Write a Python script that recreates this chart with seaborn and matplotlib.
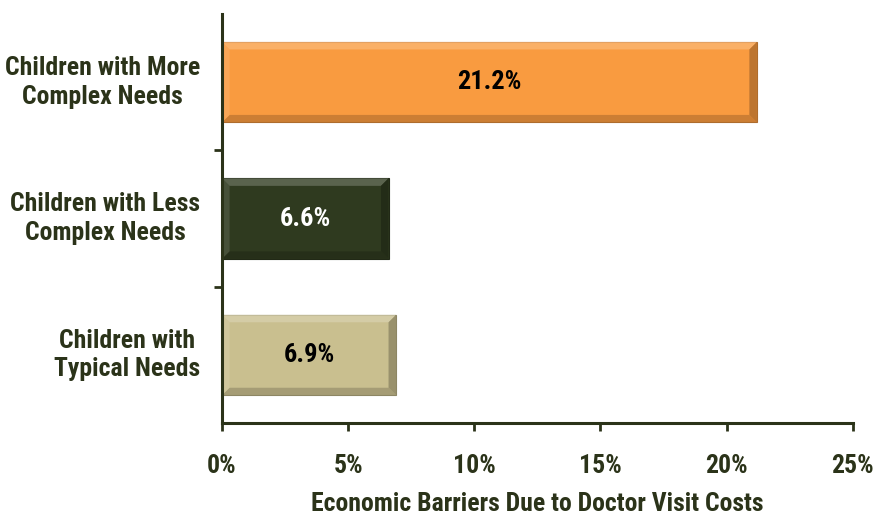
import pandas as pd
import matplotlib.pyplot as plt
import matplotlib.colors as mcolors
from matplotlib.patches import Polygon
import seaborn as sns

# Data
categories = ["Children with More\nComplex Needs",
              "Children with Less\nComplex Needs",
              "Children with\nTypical Needs"]
values = [21.2, 6.6, 6.9]
bar_colors = ["#F99B40", "#2F3A1F", "#C9BF8F"]
label_colors = ["black", "white", "black"]
x_ticks = [0, 5, 10, 15, 20, 25]

df = pd.DataFrame({"group": categories, "pct": values})

sns.set_style("white")
plt.rcParams['font.family'] = ['Roboto Condensed', 'PT Sans Narrow', 'DejaVu Sans']
plt.rcParams['font.weight'] = 'bold'
ink = "#2B3319"

fig = plt.figure(figsize=(8.81, 5.18), dpi=100)
ax = fig.add_axes([0.252, 0.183, 0.716, 0.79])

sns.barplot(data=df, y="group", x="pct", hue="group", palette=bar_colors,
            width=0.59, orient="h", legend=False, ax=ax, saturation=1)

ax.set_xlim(0, 25)
ax.set_ylim(2.5, -0.5)

# bevel edges on each bar
bx = 0.30
by = 0.055
for patch, col in zip(ax.patches, bar_colors):
    x0, y0 = patch.get_x(), patch.get_y()
    w, h = patch.get_width(), patch.get_height()
    x1, y1 = x0 + w, y0 + h
    base = mcolors.to_rgb(col)
    light = tuple(min(1, c + (1 - c) * 0.3) for c in base)
    dark = tuple(c * 0.7 for c in base)
    patch.set_edgecolor(dark)
    patch.set_linewidth(0.8)
    ax.add_patch(Polygon([(x0, y0), (x1, y0), (x1 - bx, y0 + by), (x0 + bx, y0 + by)],
                         closed=True, facecolor=light, edgecolor="none", alpha=0.7))
    ax.add_patch(Polygon([(x0, y1), (x1, y1), (x1 - bx, y1 - by), (x0 + bx, y1 - by)],
                         closed=True, facecolor=dark, edgecolor="none", alpha=0.6))
    ax.add_patch(Polygon([(x0, y0), (x0 + bx, y0 + by), (x0 + bx, y1 - by), (x0, y1)],
                         closed=True, facecolor=light, edgecolor="none", alpha=0.4))
    ax.add_patch(Polygon([(x1, y0), (x1 - bx, y0 + by), (x1 - bx, y1 - by), (x1, y1)],
                         closed=True, facecolor=dark, edgecolor="none", alpha=0.8))

# value labels
for i, (v, tc) in enumerate(zip(values, label_colors)):
    ax.text(v / 2, i, f"{v}%", ha="center", va="center", fontsize=19,
            fontweight="bold", color=tc)

# axes styling
for s in ["top", "right"]:
    ax.spines[s].set_visible(False)
for s in ["left", "bottom"]:
    ax.spines[s].set_color(ink)
    ax.spines[s].set_linewidth(2.2)

ax.set_xticks(x_ticks)
ax.set_xticklabels([f"{t}%" for t in x_ticks], fontsize=18.5, fontweight="bold", color=ink)
ax.tick_params(axis="x", direction="out", length=6, width=2, color=ink, pad=16, bottom=True)

# category labels: right aligned block, lines centered
ax.set_yticks([0, 1, 2])
ax.set_yticklabels([])
ax.tick_params(axis="y", which="major", length=0)
ax.set_yticks([0.5, 1.5], minor=True)
ax.tick_params(axis="y", which="minor", direction="out", length=6, width=2, color=ink, left=True)
ytrans = ax.get_yaxis_transform()
for i, cat in enumerate(categories):
    ax.text(-0.035, i, cat, transform=ytrans, ha="right", va="center",
            multialignment="center", fontsize=18.5, fontweight="bold", color=ink,
            linespacing=1.25)

ax.set_ylabel("")
ax.set_xlabel("Economic Barriers Due to Doctor Visit Costs", fontsize=18.5,
              fontweight="bold", color=ink, labelpad=10)

fig.savefig("out.png", dpi=100)
